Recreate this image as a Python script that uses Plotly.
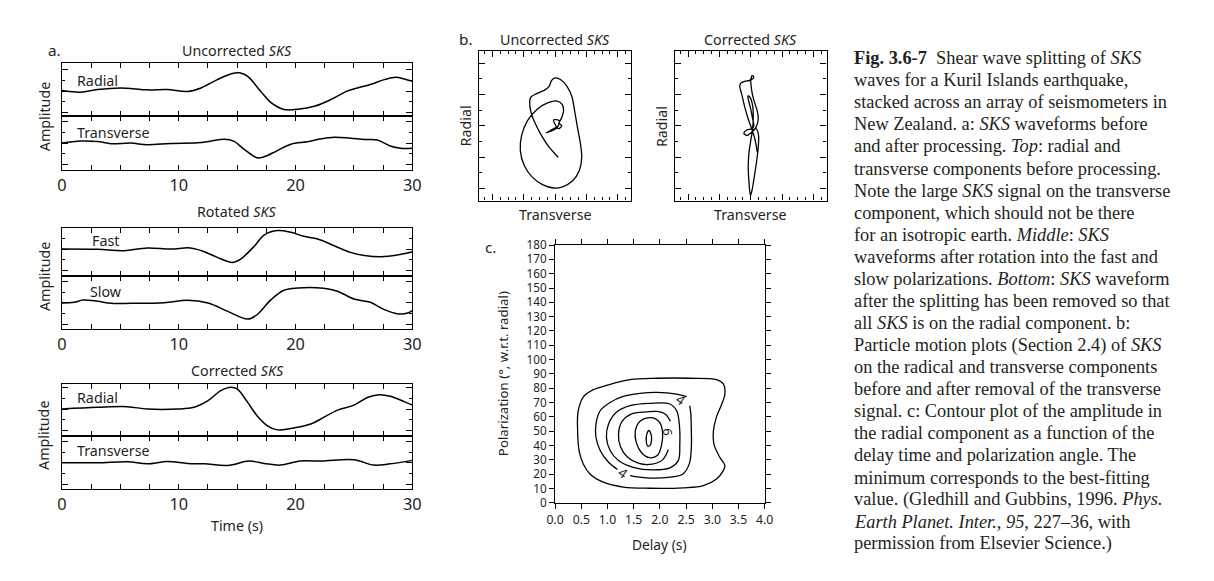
import plotly.graph_objects as go

W, H = 1214, 581          # target picture size
# The page is photographed with an 8 px page margin and scaled by W/(W+16), H/(H+16);
# map target-picture pixels into figure pixels to compensate.
SX, SY = W / (W + 16), H / (H + 16)
PAD = 8

# ---------------- data ----------------
# Panel a: waveforms, time (s) and amplitude (tick units)
unc_rad_t = [0, 1.6, 3.05, 5, 7.3, 9, 10.75, 11.9, 13.3, 14.5, 15.2, 15.9, 17.0, 17.9, 19.0, 20.2, 21.6, 23.0, 24.4, 25.3, 26.4, 27.6, 28.6, 29.3, 30]
unc_rad_a = [0.05, -0.1, 0.15, 0.3, 0.12, 0.15, -0.03, 0.3, 1.08, 1.63, 1.72, 1.38, 0, -1.08, -1.72, -1.69, -1.42, -0.8, 0, 0.3, 0.62, 1.08, 1.29, 1.14, 0.92]

unc_tr_t = [0, 1.6, 3.05, 4.2, 5.9, 7.3, 9.3, 11.6, 12.7, 13.9, 14.7, 15.6, 16.7, 17.3, 18.4, 19.6, 21.0, 22.2, 23.3, 24.7, 25.9, 27.0, 28.1, 29.0, 30]
unc_tr_a = [0, 0.2, 0.15, -0.05, 0, -0.15, -0.03, 0.03, 0.18, 0.37, 0.18, -0.58, -1.37, -1.28, -0.72, -0.1, 0.12, 0.4, 0.55, 0.46, 0.34, 0.3, -0.27, -0.48, -0.48]

fast_t = [0, 3.05, 5.3, 7.3, 9.3, 11.0, 12.2, 13.3, 14.6, 15.3, 16.5, 17.3, 18.45, 19.6, 20.7, 21.9, 23.3, 24.7, 25.9, 27.3, 28.7, 30]
fast_a = [0, -0.03, -0.15, 0.1, 0, 0.1, -0.25, -0.78, -1.25, -0.94, 0.31, 1.3, 1.72, 1.56, 1.19, 0.94, 0.31, -0.31, -0.6, -0.72, -0.56, -0.25]

slow_t = [0, 1.05, 1.8, 3.05, 4.2, 5.9, 8.75, 10.75, 12.5, 14.2, 15.9, 16.7, 17.9, 19.0, 20.2, 22.4, 23.6, 25.0, 26.4, 27.6, 28.7, 29.6, 30]
slow_a = [0, 0.06, 0.28, 0.16, -0.03, -0.03, 0.03, 0.25, 0, -0.78, -1.5, -1.1, 0.31, 1.19, 1.4, 1.37, 1.1, 0.37, 0.06, -0.62, -1.0, -0.94, -0.72]

cor_rad_t = [0, 3.05, 5.6, 7.3, 9.9, 11.3, 12.5, 13.6, 14.5, 15.0, 15.9, 16.7, 17.6, 18.45, 19.6, 21.3, 22.4, 23.6, 25.0, 26.2, 27.2, 28.1, 29.3, 30]
cor_rad_a = [0, 0.16, 0.22, 0, 0, 0.16, 0.78, 1.72, 2.03, 1.87, 0.62, -0.62, -1.56, -1.94, -1.81, -1.4, -0.78, -0.1, 0.37, 1.1, 1.34, 1.19, 0.69, 0.37]

cor_tr_t = [0, 3.05, 5.6, 7.3, 9.0, 10.75, 12.2, 14.2, 16.0, 17.3, 18.7, 20.4, 22.2, 25.0, 26.7, 28.1, 30]
cor_tr_a = [0, 0, 0.1, -0.1, 0.12, -0.06, -0.1, -0.25, 0.16, -0.06, -0.22, 0.16, 0.16, 0.28, -0.22, -0.1, 0.22]

# Panel b: particle motion (transverse, radial)
pm_unc_x = [0.10, -0.19, -0.45, -0.64, -0.77, -0.81, -0.77, -0.61, -0.35, -0.19, -0.11, 0.00, 0.17, 0.38, 0.54, 0.63, 0.72, 0.81, 0.85, 0.77, 0.56, 0.24, -0.05, -0.40, -0.72, -0.98, -1.11, -1.07, -0.88, -0.56, -0.22, 0.06, 0.23, 0.27, 0.21, 0.13, 0.21, 0.10, -0.05, 0.13, 0.06, -0.29, 0.08]
pm_unc_y = [-1.00, -0.68, -0.28, 0.09, 0.44, 0.76, 0.92, 1.02, 1.13, 1.26, 1.45, 1.53, 1.48, 1.26, 0.92, 0.44, -0.09, -0.57, -1.00, -1.43, -1.75, -1.94, -1.98, -1.87, -1.64, -1.27, -0.79, -0.31, 0.17, 0.54, 0.74, 0.79, 0.68, 0.49, 0.26, 0.09, 0.00, -0.09, 0.19, 0.17, -0.06, -0.22, -0.02]

pm_cor_x = [0.21, 0.13, 0.03, -0.08, -0.19, -0.29, -0.35, -0.32, -0.19, -0.03, 0.02, 0.04, 0.09, 0.07, 0.01, 0.03, 0.10, 0.19, 0.24, 0.17, 0.03, -0.13, -0.22, -0.13, 0.03, 0.10, 0.06, 0.00, -0.07, -0.09, -0.03, 0.06, 0.08, 0.06, 0.00, -0.06, -0.08, -0.06, -0.01, 0.04, 0.11, 0.19, 0.24, 0.25, 0.17, 0.06]
pm_cor_y = [-0.84, -0.41, -0.09, 0.22, 0.60, 1.02, 1.26, 1.36, 1.42, 1.45, 1.53, 1.60, 1.58, 1.50, 1.47, 1.13, 0.81, 0.54, 0.22, -0.04, -0.20, -0.31, -0.23, -0.13, -0.09, 0.01, 0.22, 0.54, 0.81, 0.95, 0.92, 0.65, 0.28, -0.09, -0.47, -0.89, -1.32, -1.75, -2.22, -2.06, -1.64, -1.11, -0.68, -0.31, -0.09, -0.15]

# Panel c: contour lines, delay (s) and polarization (deg)
c1_x = [0.43, 0.44, 0.54, 0.73, 0.98, 1.43, 1.94, 2.57, 3.08, 3.21, 3.24, 3.17, 3.08, 3.02, 3.03, 3.14, 3.24, 3.21, 3.08, 2.83, 2.44, 1.81, 1.30, 0.92, 0.67, 0.54, 0.46, 0.43]
c1_y = [50, 64, 74, 79, 82, 86, 87, 87, 86, 83, 76, 68, 60, 50, 41, 32, 26, 22.5, 16.7, 12, 10.5, 10.2, 11, 14.4, 20, 27, 36, 50]
c2_x = [2.51, 2.32, 1.94, 1.62, 1.30, 1.05, 0.86, 0.78, 0.78, 0.86, 1.02, 1.19]
c2_y = [74.1, 75.9, 77.1, 76.4, 74.3, 70.1, 64.3, 55.0, 45.8, 36.5, 28.3, 23.3]
c2b_x = [1.43, 1.75, 2.19, 2.44, 2.56, 2.60, 2.60, 2.59, 2.57]
c2b_y = [19.0, 17.4, 17.9, 20.2, 27.2, 38.8, 50.4, 62.0, 67.8]
c3_x = [2.19, 1.81, 1.43, 1.17, 1.02, 0.98, 1.05, 1.21, 1.49, 1.87, 2.19, 2.35, 2.38, 2.37, 2.32, 2.19]
c3_y = [69.0, 69.4, 67.8, 63.2, 55.0, 45.8, 36.5, 29.5, 24.8, 23.0, 24.4, 29.5, 41.1, 55.0, 64.3, 69.0]
c4_x = [2.20, 2.10, 1.95, 1.75, 1.45, 1.28, 1.21, 1.25, 1.38, 1.60, 1.85, 2.05, 2.16]
c4_y = [57, 62, 63.8, 63.5, 62, 57, 48, 39, 32, 27.5, 27, 30, 37]
c5_x = [1.80, 1.62, 1.53, 1.55, 1.65, 1.80, 1.95, 2.03, 2.05, 2.00, 1.90, 1.80]
c5_y = [59.5, 57, 50, 42, 35, 31.5, 33, 40, 50, 56, 59, 59.5]
c6_x = [1.79, 1.75, 1.74, 1.77, 1.82, 1.84, 1.83, 1.79]
c6_y = [50.5, 48, 43, 39.5, 40.5, 44, 48, 50.5]
c_lab_x = [2.41, 1.30, 2.16]
c_lab_y = [72.0, 20.7, 49.0]
c_lab_t = ["4", "4", "6"]
c_lab_ang = [35, 35, 90]

time_ticks = [0, 10, 20, 30]

caption_lines = [
    "<b>Fig. 3.6-7</b>\u2002Shear wave splitting of <i>SKS</i>",
    "waves for a Kuril Islands earthquake,",
    "stacked across an array of seismometers in",
    "New Zealand. a: <i>SKS</i> waveforms before",
    "and after processing. <i>Top</i>: radial and",
    "transverse components before processing.",
    "Note the large <i>SKS</i> signal on the transverse",
    "component, which should not be there",
    "for an isotropic earth. <i>Middle</i>: <i>SKS</i>",
    "waveforms after rotation into the fast and",
    "slow polarizations. <i>Bottom</i>: <i>SKS</i> waveform",
    "after the splitting has been removed so that",
    "all <i>SKS</i> is on the radial component. b:",
    "Particle motion plots (Section 2.4) of <i>SKS</i>",
    "on the radical and transverse components",
    "before and after removal of the transverse",
    "signal. c: Contour plot of the amplitude in",
    "the radial component as a function of the",
    "delay time and polarization angle. The",
    "minimum corresponds to the best-fitting",
    "value. (Gledhill and Gubbins, 1996. <i>Phys.</i>",
    "<i>Earth Planet. Inter.</i>, <i>95</i>, 227–36, with",
    "permission from Elsevier Science.)",
]

# ---------------- layout helpers ----------------
INK = "#231f20"
SANS = "Noto Sans"
FS = 2.0 / (SX + SY)   # font compensation


def fx(x):
    return (x / SX - PAD) / W


def fy(y):
    return 1 - (y / SY - PAD) / H


layout = dict(
    width=W, height=H, margin=dict(l=0, r=0, t=0, b=0, pad=0),
    paper_bgcolor="white", plot_bgcolor="white", showlegend=False,
    font=dict(family=SANS, color=INK),
)
annotations = []


def add_axes(n, x0, x1, y0, y1, xa, ya):
    s = "" if n == 1 else str(n)
    layout["xaxis" + s] = dict(domain=[fx(x0), fx(x1)], anchor="y" + s, **xa)
    layout["yaxis" + s] = dict(domain=[fy(y1), fy(y0)], anchor="x" + s, **ya)


def frame_common():
    return dict(showline=True, linecolor="black", linewidth=1.3, mirror="ticks",
                showgrid=False, zeroline=False, tickcolor="black", tickwidth=1.1,
                fixedrange=True)


def wave_x(labels):
    d = frame_common()
    d.update(range=[0, 30], tickvals=time_ticks, ticks="inside", ticklen=5,
             showticklabels=labels, tickfont=dict(size=16 * FS, color=INK),
             minor=dict(dtick=2.5, tick0=0, ticks="inside", ticklen=5,
                        tickcolor="black", tickwidth=1.1, showgrid=False))
    return d


def wave_y(rng):
    d = frame_common()
    d.update(range=rng, dtick=2, tick0=0, ticks="inside", ticklen=6,
             showticklabels=False,
             minor=dict(dtick=1, tick0=0, ticks="inside", ticklen=3,
                        tickcolor="black", tickwidth=1.1, showgrid=False))
    return d


# ---------------- panel a ----------------
XA0, XA1 = 61, 412
wave_panels = [
    (1, 62, 115, [-2.34, 2.62], False, unc_rad_t, unc_rad_a),
    (2, 115, 169, [-2.52, 2.52], True, unc_tr_t, unc_tr_a),
    (3, 227, 275, [-2.52, 1.96], False, fast_t, fast_a),
    (4, 275, 328, [-2.43, 2.52], True, slow_t, slow_a),
    (5, 383, 435, [-2.5, 2.34], False, cor_rad_t, cor_rad_a),
    (6, 435, 488, [-2.43, 2.5], True, cor_tr_t, cor_tr_a),
]
traces = []
for n, y0, y1, rng, lab, tt, aa in wave_panels:
    add_axes(n, XA0, XA1, y0, y1, wave_x(lab), wave_y(rng))
    s = "" if n == 1 else str(n)
    traces.append(go.Scatter(x=tt, y=aa, xaxis="x" + s, yaxis="y" + s, mode="lines",
                             line=dict(color="black", width=1.5, shape="spline", smoothing=1.0),
                             hoverinfo="skip"))


def txt(x, y, s, size=14, xanchor="center", angle=0, family=SANS, color=INK):
    annotations.append(dict(x=fx(x), y=fy(y), xref="paper", yref="paper", text=s,
                            showarrow=False, xanchor=xanchor, yanchor="middle",
                            textangle=angle,
                            font=dict(size=size * FS, family=family, color=color)))


txt(53, 49, "a.", 15)
txt(236.5, 49, "Uncorrected <i>SKS</i>", 14)
txt(236.5, 210, "Rotated <i>SKS</i>", 14)
txt(236.5, 370, "Corrected <i>SKS</i>", 14)
txt(74, 79, "Radial", 14, "left")
txt(74, 131, "Transverse", 14, "left")
txt(89, 239, "Fast", 14, "left")
txt(87.5, 291, "Slow", 14, "left")
txt(74, 397, "Radial", 14, "left")
txt(74, 450, "Transverse", 14, "left")
for yc in (116, 276, 435):
    txt(43, yc, "Amplitude", 14, angle=-90)
txt(236.5, 525, "Time (s)", 14)

# ---------------- panel b ----------------
def pm_x():
    d = frame_common()
    d.update(range=[-2.42, 2.42], dtick=1, tick0=0, ticks="inside", ticklen=6,
             showticklabels=False,
             minor=dict(dtick=0.25, tick0=0, ticks="inside", ticklen=3,
                        tickcolor="black", tickwidth=1.1, showgrid=False))
    return d


def pm_y():
    d = frame_common()
    d.update(range=[-2.38, 2.38], dtick=1, tick0=0, ticks="inside", ticklen=6,
             showticklabels=False,
             minor=dict(dtick=0.5, tick0=0, ticks="inside", ticklen=3,
                        tickcolor="black", tickwidth=1.1, showgrid=False))
    return d


add_axes(7, 479, 631, 50, 199.5, pm_x(), pm_y())
add_axes(8, 675, 827, 50, 199.5, pm_x(), pm_y())
traces.append(go.Scatter(x=pm_unc_x, y=pm_unc_y, xaxis="x7", yaxis="y7", mode="lines",
                         line=dict(color="black", width=1.3, shape="spline", smoothing=0.8),
                         hoverinfo="skip"))
traces.append(go.Scatter(x=pm_cor_x, y=pm_cor_y, xaxis="x8", yaxis="y8", mode="lines",
                         line=dict(color="black", width=1.3, shape="spline", smoothing=0.8),
                         hoverinfo="skip"))
txt(466, 38, "b.", 15)
txt(554.5, 38, "Uncorrected <i>SKS</i>", 14)
txt(750.5, 38, "Corrected <i>SKS</i>", 14)
txt(555, 213, "Transverse", 14)
txt(750.5, 213, "Transverse", 14)
txt(465, 125, "Radial", 14, angle=-90)
txt(661, 125, "Radial", 14, angle=-90)

# ---------------- panel c ----------------
cx = frame_common()
cx.update(range=[0, 4], dtick=0.5, tick0=0, tickformat=".1f", ticks="outside", ticklen=5,
          tickfont=dict(size=12 * FS, color=INK))
cy = frame_common()
cy.update(range=[0, 180], dtick=10, tick0=0, ticks="outside", ticklen=5,
          tickfont=dict(size=11.5 * FS, color=INK))
add_axes(9, 555, 765, 244, 502, cx, cy)
for xs, ys in [(c1_x, c1_y), (c2_x, c2_y), (c2b_x, c2b_y), (c3_x, c3_y),
               (c4_x, c4_y), (c5_x, c5_y), (c6_x, c6_y)]:
    traces.append(go.Scatter(x=xs, y=ys, xaxis="x9", yaxis="y9", mode="lines",
                             line=dict(color="black", width=1.3, shape="spline", smoothing=1.0),
                             hoverinfo="skip"))
for lx, ly, lt, la in zip(c_lab_x, c_lab_y, c_lab_t, c_lab_ang):
    annotations.append(dict(x=lx, y=ly, xref="x9", yref="y9", text=lt, showarrow=False,
                            textangle=la, font=dict(size=13 * FS, family=SANS, color=INK)))
txt(490, 246, "c.", 15)
txt(503, 373, "Polarization (°, w.r.t. radial)", 13, angle=-90)
txt(660, 544, "Delay (s)", 13.5)

# ---------------- caption ----------------
for i, line in enumerate(caption_lines):
    txt(852, 57 + i * 22.09, line, 18, "left", family="Liberation Serif", color=INK)

layout["annotations"] = annotations
fig = go.Figure(data=traces, layout=layout)
fig.write_html("out.html")
